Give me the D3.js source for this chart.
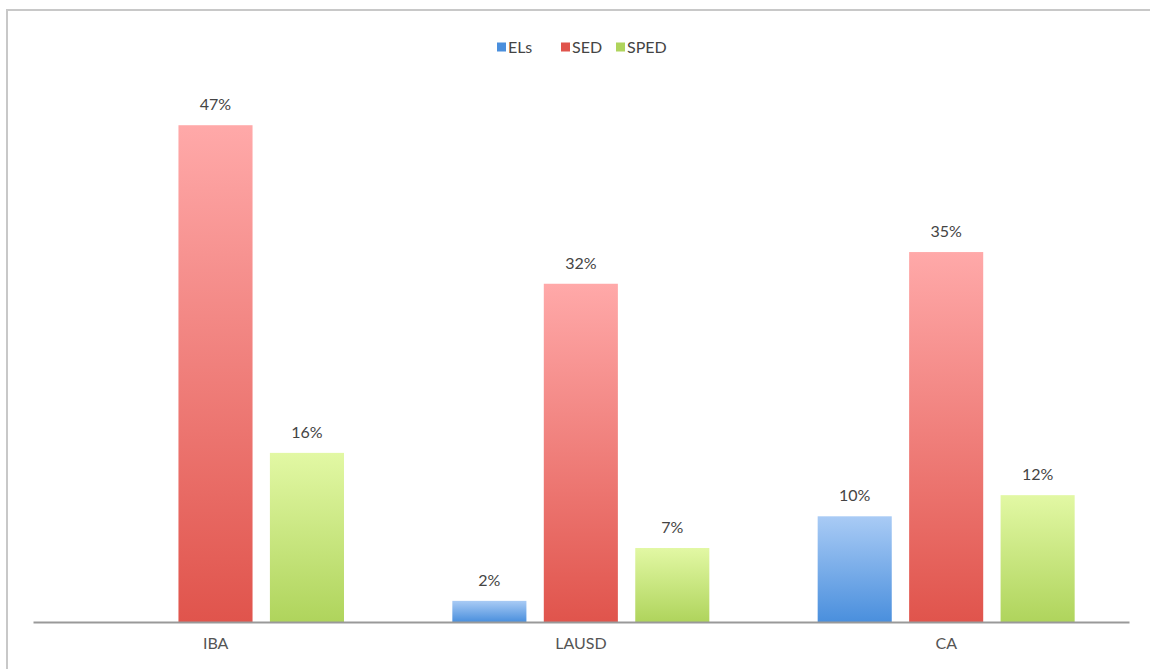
<!DOCTYPE html>
<html>
<head>
<meta charset="utf-8">
<script src="https://cdn.jsdelivr.net/npm/d3@7"></script>
<style>
  body { margin: 0; background: #fff; }
  text { font-family: Lato, "Open Sans", sans-serif; }
</style>
</head>
<body>
<div id="chart"></div>
<script>
// chart values
var categories = ["IBA", "LAUSD", "CA"];
var seriesNames = ["ELs", "SED", "SPED"];
var els  = [null, 2, 10];
var sed  = [47, 32, 35];
var sped = [16, 7, 12];

var W = 1150, H = 669;
var colours = {
	ELs:  ["#a9cbf5", "#4a8fdd"],
	SED:  ["#ffa9a9", "#e0544c"],
	SPED: ["#e2f8a4", "#afd45c"]
};

var svg = d3.select("#chart").append("svg")
	.attr("width", W).attr("height", H);

// outer frame (runs off right/bottom edge)
svg.append("rect")
	.attr("x", 7).attr("y", 10)
	.attr("width", W + 10).attr("height", H + 10)
	.attr("fill", "none").attr("stroke", "#c8c8c8").attr("stroke-width", 2);

var defs = svg.append("defs");
seriesNames.forEach(function(s){
	var g = defs.append("linearGradient")
		.attr("id", "grad-" + s)
		.attr("x1", 0).attr("y1", 0).attr("x2", 0).attr("y2", 1);
	g.append("stop").attr("offset", "0%").attr("stop-color", colours[s][0]);
	g.append("stop").attr("offset", "100%").attr("stop-color", colours[s][1]);
});

var x0 = d3.scaleBand().domain(categories).range([33, 1129]).paddingInner(0).paddingOuter(0);
var x1 = d3.scaleBand().domain(seriesNames).range([54, 311]).paddingInner(0.19).paddingOuter(0);
var y = d3.scaleLinear().domain([0, 50]).range([622, 93.5]);

var table = categories.map(function(c, i){
	return { cat: c, vals: [
		{ s: "ELs", v: els[i] },
		{ s: "SED", v: sed[i] },
		{ s: "SPED", v: sped[i] }
	]};
});

var groups = svg.selectAll("g.cat").data(table).enter().append("g")
	.attr("class", "cat")
	.attr("transform", function(d){ return "translate(" + x0(d.cat) + ",0)"; });

var bars = groups.selectAll("g.bar")
	.data(function(d){ return d.vals.filter(function(e){ return e.v != null; }); })
	.enter().append("g").attr("class", "bar");

bars.append("rect")
	.attr("x", function(d){ return x1(d.s); })
	.attr("y", function(d){ return y(d.v); })
	.attr("width", x1.bandwidth())
	.attr("height", function(d){ return y(0) - y(d.v); })
	.attr("fill", function(d){ return "url(#grad-" + d.s + ")"; });

bars.append("text")
	.attr("x", function(d){ return x1(d.s) + x1.bandwidth() / 2; })
	.attr("y", function(d){ return y(d.v) - 15; })
	.attr("text-anchor", "middle")
	.attr("font-size", 16)
	.attr("fill", "#444")
	.text(function(d){ return d.v + "%"; });

// category axis
var xAxis = svg.append("g")
	.attr("transform", "translate(0,622)")
	.call(d3.axisBottom(x0).tickSize(0).tickPadding(16));
xAxis.select(".domain").attr("stroke", "#999").attr("stroke-width", 2);
xAxis.selectAll("text")
	.attr("font-size", 16)
	.attr("fill", "#555")
	.style("font-family", "Lato, 'Open Sans', sans-serif");

// legend
var legendX = [497, 561, 616];
var legend = svg.append("g").selectAll("g").data(seriesNames).enter().append("g")
	.attr("transform", function(d, i){ return "translate(" + legendX[i] + ",47)"; });
legend.append("rect")
	.attr("x", 0).attr("y", -4.5).attr("width", 9).attr("height", 9)
	.attr("fill", function(d){ return colours[d][1]; });
legend.append("text")
	.attr("x", 11).attr("y", 6)
	.attr("font-size", 16)
	.attr("fill", "#444")
	.text(function(d){ return d; });
</script>
</body>
</html>
